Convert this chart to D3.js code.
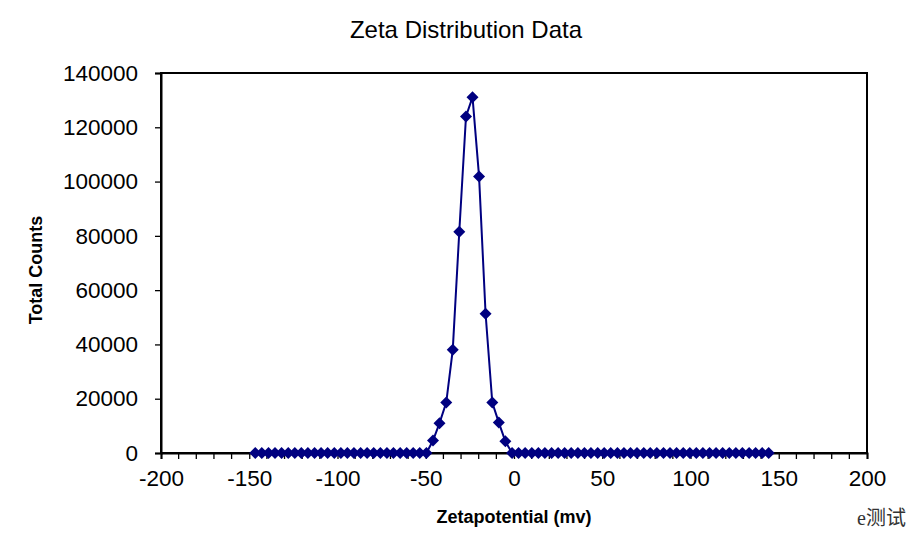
<!DOCTYPE html>
<html><head><meta charset="utf-8">
<script src="https://cdn.jsdelivr.net/npm/d3@7"></script>
<style>body{margin:0;background:#fff;} svg{display:block;}</style>
</head><body>
<svg id="c" width="917" height="537"></svg>
<script>
const zeta = [-146.6,-142.9,-139.1,-135.4,-131.7,-127.9,-124.2,-120.5,-116.8,-113.0,
  -109.3,-105.6,-101.8,-98.1,-94.4,-90.7,-86.9,-83.2,-79.5,-75.7,
  -72.0,-68.3,-64.5,-60.8,-57.1,-53.4,-49.6,-45.9,-42.2,-38.4,
  -34.7,-31.0,-27.2,-23.5,-19.8,-16.1,-12.3,-8.6,-4.9,-1.1,
  2.6,6.3,10.1,13.8,17.5,21.3,25.0,28.7,32.4,36.2,
  39.9,43.6,47.4,51.1,54.8,58.6,62.3,66.0,69.7,73.5,
  77.2,80.9,84.7,88.4,92.1,95.9,99.6,103.3,107.0,110.8,
  114.5,118.2,122.0,125.7,129.4,133.2,136.9,140.6,144.3];
const counts = [0,0,0,0,0,0,0,0,0,0,
  0,0,0,0,0,0,0,0,0,0,
  0,0,0,0,0,0,0,4600,11000,18600,
  38000,81500,124000,131100,101900,51300,18600,11200,4300,0,
  0,0,0,0,0,0,0,0,0,0,
  0,0,0,0,0,0,0,0,0,0,
  0,0,0,0,0,0,0,0,0,0,
  0,0,0,0,0,0,0,0,0];
const xTicks = [-200,-150,-100,-50,0,50,100,150,200];
const yTicks = [0,20000,40000,60000,80000,100000,120000,140000];
const title = "Zeta Distribution Data";
const xTitle = "Zetapotential (mv)";
const yTitle = "Total Counts";
const note = "e测试";

const svg = d3.select("#c");
const L = 161, R = 867, T = 73, B = 453;
const x = d3.scaleLinear().domain([-200,200]).range([L,R]);
const y = d3.scaleLinear().domain([0,140000]).range([B,T]);
const font = "Arial, 'Liberation Sans', sans-serif";
const fmt = d => String(d);

// plot border
svg.append("rect").attr("x",L).attr("y",T).attr("width",R-L).attr("height",B-T)
  .attr("fill","none").attr("stroke","#000").attr("stroke-width",2);

// x axis
const xAxis = d3.axisBottom(x).tickValues(xTicks).tickSize(6).tickPadding(11).tickFormat(fmt);
const gx = svg.append("g").attr("transform",`translate(0,${B})`).call(xAxis);
gx.select(".domain").attr("stroke-width",2);
gx.selectAll(".tick line").attr("stroke-width",1.3);
gx.selectAll("text").attr("font-family",font).attr("font-size",22.5).attr("fill","#000");
const minor = d3.range(-200,201,10).filter(v=>v%50!==0);
svg.append("g").attr("transform",`translate(0,${B})`).selectAll("line").data(minor).join("line")
  .attr("x1",d=>x(d)).attr("x2",d=>x(d)).attr("y1",0).attr("y2",6).attr("stroke","#000").attr("stroke-width",1.3);

// y axis
const yAxis = d3.axisLeft(y).tickValues(yTicks).tickSize(6).tickPadding(17).tickFormat(fmt);
const gy = svg.append("g").attr("transform",`translate(${L},0)`).call(yAxis);
gy.select(".domain").attr("stroke-width",2);
gy.selectAll(".tick line").attr("stroke-width",1.3);
gy.selectAll("text").attr("font-family",font).attr("font-size",22.5).attr("fill","#000");

// data
const pts = zeta.map((v,i)=>[v,counts[i]]);
svg.append("path").datum(pts)
  .attr("d",d3.line().x(d=>x(d[0])).y(d=>y(d[1])))
  .attr("fill","none").attr("stroke","#000080").attr("stroke-width",2);
svg.append("g").selectAll("path").data(pts).join("path")
  .attr("transform",d=>`translate(${x(d[0])},${y(d[1])})`)
  .attr("d","M0,-6L6,0L0,6L-6,0Z")
  .attr("fill","#000080");

// titles
svg.append("text").attr("x",466).attr("y",38).attr("text-anchor","middle")
  .attr("font-family",font).attr("font-size",24).text(title);
svg.append("text").attr("x",514).attr("y",523).attr("text-anchor","middle")
  .attr("font-family",font).attr("font-size",18).attr("font-weight","bold").text(xTitle);
svg.append("text").attr("transform","translate(42,270) rotate(-90)").attr("text-anchor","middle")
  .attr("font-family",font).attr("font-size",18).attr("font-weight","bold").text(yTitle);
svg.append("text").attr("x",906).attr("y",525).attr("text-anchor","end")
  .attr("font-family","'Liberation Serif','Noto Sans CJK SC',serif").attr("font-size",20).attr("fill","#333").text(note);
</script>
</body></html>
